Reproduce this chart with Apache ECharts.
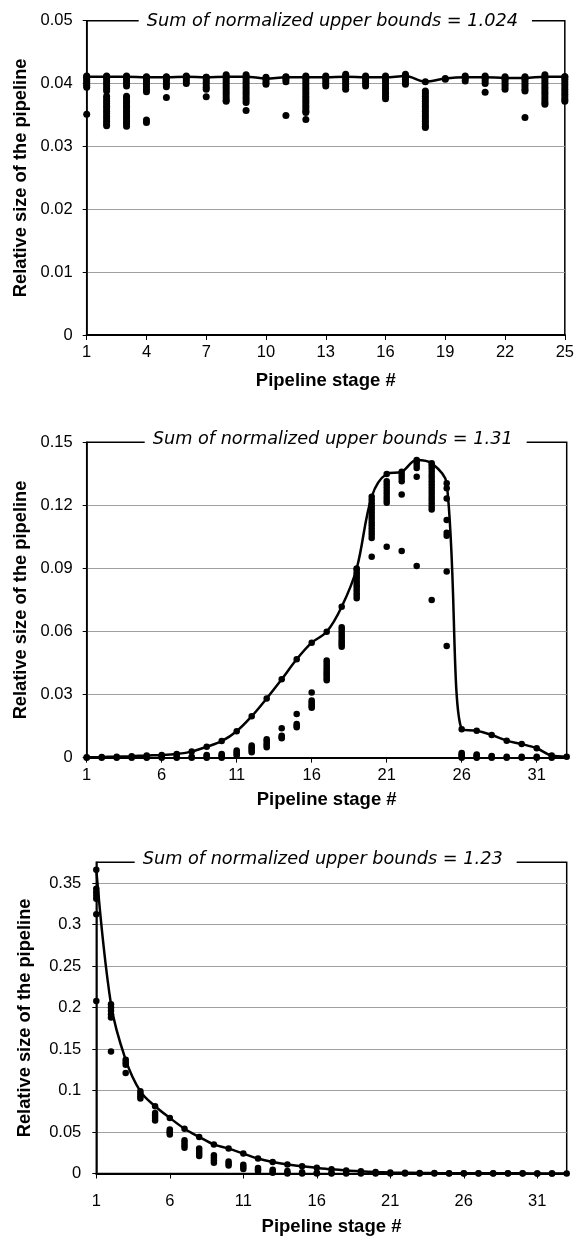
<!DOCTYPE html>
<html><head><meta charset="utf-8">
<script src="https://cdn.jsdelivr.net/npm/echarts@6/dist/echarts.min.js"></script>
<style>html,body{margin:0;padding:0;background:#fff}#c{width:577px;height:1238px}</style>
</head><body><div id="c"></div>
<script>
// ---------- data ----------
const stages25 = ['1','2','3','4','5','6','7','8','9','10','11','12','13','14','15','16','17','18','19','20','21','22','23','24','25'];
const stages33 = ['1','2','3','4','5','6','7','8','9','10','11','12','13','14','15','16','17','18','19','20','21','22','23','24','25','26','27','28','29','30','31','32','33'];

const titles = ['Sum of normalized upper bounds = 1.024','Sum of normalized upper bounds = 1.31','Sum of normalized upper bounds = 1.23'];
const xName = 'Pipeline stage #';
const yName = 'Relative size of the pipeline';

// panel 1: upper bound per stage (line) and observed sizes (dots)
const p1Upper = [0.0411,0.0411,0.0411,0.0410,0.0410,0.0411,0.0410,0.0411,0.0411,0.0408,0.0410,0.0410,0.0410,0.0411,0.0410,0.0410,0.0412,0.0403,0.0408,0.0410,0.0410,0.0409,0.0409,0.0411,0.0411];
const p1Points = [
  [0.0412,0.0409,0.0406,0.0403,0.0400,0.0397,0.0394,0.0351],
  [0.0412,0.0408,0.0404,0.0400,0.0396,0.0392,0.0388,0.0380,0.0376,0.0372,0.0368,0.0364,0.0360,0.0356,0.0352,0.0348,0.0344,0.0340,0.0336,0.0333],
  [0.0412,0.0408,0.0404,0.0400,0.0396,0.0380,0.0376,0.0372,0.0368,0.0364,0.0360,0.0356,0.0352,0.0348,0.0344,0.0340,0.0336,0.0332],
  [0.0411,0.0407,0.0403,0.0399,0.0395,0.0391,0.0387,0.0342,0.0338],
  [0.0411,0.0407,0.0403,0.0399,0.0395,0.0378],
  [0.0412,0.0408,0.0404,0.0400],
  [0.0410,0.0406,0.0402,0.0398,0.0394,0.0391,0.0379],
  [0.0414,0.0410,0.0406,0.0402,0.0398,0.0394,0.0390,0.0386,0.0382,0.0378,0.0374,0.0372],
  [0.0414,0.0410,0.0406,0.0402,0.0398,0.0394,0.0390,0.0386,0.0382,0.0378,0.0374,0.0370,0.0357],
  [0.0410,0.0406,0.0402,0.0399],
  [0.0411,0.0407,0.0403,0.0349],
  [0.0412,0.0408,0.0404,0.0400,0.0396,0.0392,0.0388,0.0384,0.0380,0.0376,0.0372,0.0368,0.0364,0.0360,0.0356,0.0354,0.0343],
  [0.0412,0.0408,0.0404,0.0400,0.0396],
  [0.0415,0.0411,0.0407,0.0403,0.0399,0.0395,0.0391],
  [0.0412,0.0408,0.0404,0.0400,0.0396],
  [0.0412,0.0408,0.0404,0.0400,0.0396,0.0392,0.0388,0.0384,0.0380,0.0376],
  [0.0415,0.0411,0.0407,0.0403,0.0399],
  [0.0388,0.0384,0.0380,0.0376,0.0372,0.0368,0.0364,0.0360,0.0356,0.0352,0.0348,0.0344,0.0340,0.0336,0.0332,0.0330],
  [0.0407],
  [0.0412,0.0408,0.0404],
  [0.0412,0.0408,0.0404,0.0400,0.0386],
  [0.0411,0.0407,0.0403,0.0399,0.0395,0.0391],
  [0.0411,0.0407,0.0403,0.0399,0.0395,0.0391,0.0388,0.0346],
  [0.0414,0.0410,0.0406,0.0402,0.0398,0.0394,0.0390,0.0386,0.0382,0.0378,0.0374,0.0370,0.0367],
  [0.0411,0.0407,0.0403,0.0399,0.0395,0.0391,0.0387,0.0383,0.0379,0.0375,0.0372]
];

// panel 2
const p2Upper = [0.0002,0.0003,0.0005,0.0007,0.0011,0.0013,0.0018,0.0029,0.0052,0.0079,0.0126,0.0197,0.0282,0.0373,0.0468,0.0547,0.0599,0.0718,0.0900,0.1241,0.1349,0.1360,0.1416,0.1400,0.1305,0.0135,0.0128,0.0108,0.0081,0.0065,0.0045,0.0010,0.0005];
const p2Points = [
  [0],[0],[0],[0],[0,0.0003],[0,0.0004],[0,0.0005],[0,0.0004],
  [0,0.0008,0.0013],
  [0,0.0006,0.0012,0.0018],
  [0.0010,0.0018,0.0026,0.0034],
  [0.0026,0.0034,0.0042,0.0050,0.0058],
  [0.0050,0.0058,0.0068,0.0080,0.0088],
  [0.0092,0.0098,0.0104,0.0140],
  [0.0145,0.0152,0.0160,0.0208],
  [0.0237,0.0245,0.0253,0.0262,0.0272,0.0310],
  [0.0368,0.0378,0.0388,0.0398,0.0408,0.0418,0.0428,0.0440,0.0452,0.0462],
  [0.0528,0.0538,0.0548,0.0558,0.0570,0.0582,0.0595,0.0608,0.0620],
  [0.0758,0.0770,0.0782,0.0795,0.0808,0.0820,0.0832,0.0845,0.0858,0.0870,0.0882,0.0895],
  [0.0956,0.1045,0.1060,0.1075,0.1090,0.1105,0.1120,0.1135,0.1150,0.1165,0.1180,0.1195,0.1210,0.1225],
  [0.1003,0.1212,0.1225,0.1240,0.1255,0.1270,0.1285,0.1300,0.1315],
  [0.0983,0.1252,0.1315,0.1330,0.1345],
  [0.0912,0.1336,0.1378,0.1392,0.1405],
  [0.0750,0.1180,0.1195,0.1210,0.1225,0.1240,0.1255,0.1270,0.1285,0.1300,0.1315,0.1330,0.1345,0.1360,0.1375,0.1390],
  [0.0531,0.0885,0.1055,0.1070,0.1130,0.1233,0.1281],
  [0,0.0005,0.0010,0.0016,0.0022],
  [0,0.0005,0.0010,0.0015],
  [0,0.0004,0.0008],
  [0,0.0005],
  [0,0.0004],
  [0,0.0004],
  [0],
  []
];

// panel 3
const p3Upper = [0.366,0.204,0.137,0.099,0.081,0.067,0.054,0.044,0.035,0.030,0.024,0.018,0.0138,0.0108,0.0088,0.0068,0.0050,0.0036,0.0026,0.0018,0.0012,0.0009,0.0007,0.0005,0.0004,0.0003,0.0003,0.0002,0.0002,0.0002,0.0001,0.0001,0.0001];
const p3Points = [
  [0.343,0.339,0.335,0.331,0.3124,0.2079],
  [0.200,0.196,0.192,0.188,0.147],
  [0.134,0.131,0.121],
  [0.096,0.093,0.0905],
  [0.073,0.070,0.067,0.064],
  [0.053,0.051,0.049,0.047],
  [0.040,0.037,0.034,0.031],
  [0.030,0.027,0.024,0.021],
  [0.022,0.019,0.016,0.013],
  [0.0145,0.012,0.0095],
  [0.0105,0.008,0.0055],
  [0.0065,0.0045,0.003],
  [0.0045,0.0025,0.001],
  [0.003,0.001,0],
  [0.0015,0],
  [0.001,0],
  [0.0005,0],
  [0],[0],[0],[0],[0],[0],[0],[0],[0],[0],[0],[0],[0],[0],[0],
  []
];

// ---------- chart ----------
function pts(arr){ const out=[]; arr.forEach((vals,i)=>vals.forEach(v=>out.push([i,v]))); return out; }

const FONT = 'Liberation Sans';
const grids = [
  {left:86.7, top:20.7, width:480, height:314.3},
  {left:86.7, top:442.3, width:480, height:315.4},
  {left:96.3, top:862.3, width:470.4, height:311.2}
];
const yCfg = [
  {max:0.05, interval:0.01, gap:52, margin:14},
  {max:0.15, interval:0.03, gap:52, margin:14},
  {max:0.375, interval:0.05, gap:62, margin:15}
];
const xCfg = [
  {data:stages25, interval:2, margin:8.5, gap:36.5},
  {data:stages33, interval:4, margin:9, gap:33},
  {data:stages33, interval:4, margin:19.5, gap:44}
];
const titlePos = [
  {left:138.7, top:10},
  {left:144.7, top:428},
  {left:134.7, top:848}
];
const lines = [p1Upper, p2Upper, p3Upper];
const points = [p1Points, p2Points, p3Points];
const dot = [7, 6.5, 6.5];

const option = {
  animation:false,
  backgroundColor:'#fff',
  title: titles.map((t,i)=>({
    text:t, left:titlePos[i].left, top:titlePos[i].top,
    backgroundColor:'#fff', padding:[1,14,1,8], z:10,
    textStyle:{fontFamily:'DejaVu Sans', fontStyle:'italic', fontWeight:'normal', fontSize:17.7, lineHeight:20, color:'#000'}
  })),
  grid: grids.map(g=>Object.assign({show:true, borderColor:'#000', borderWidth:1.5, backgroundColor:'transparent'}, g)),
  xAxis: xCfg.map((c,i)=>({
    type:'category', gridIndex:i, data:c.data, boundaryGap:false,
    axisLine:{show:true, lineStyle:{color:'#000', width:2}},
    axisTick:{show:true, length:5, interval:c.interval, lineStyle:{color:'#000', width:1}},
    axisLabel:{interval:c.interval, margin:c.margin, fontSize:16.5, color:'#000', fontFamily:FONT},
    splitLine:{show:false},
    name:xName, nameLocation:'middle', nameGap:c.gap,
    nameTextStyle:{fontFamily:FONT, fontWeight:'bold', fontSize:18.5, color:'#000'}
  })),
  yAxis: yCfg.map((c,i)=>({
    type:'value', gridIndex:i, min:0, max:c.max, interval:c.interval,
    axisLine:{show:true, lineStyle:{color:'#000', width:1.5}},
    axisTick:{show:true, length:4, lineStyle:{color:'#000', width:1}},
    axisLabel:{margin:c.margin, fontSize:16.5, color:'#000', fontFamily:FONT, showMaxLabel: i===2 ? false : true},
    splitLine:{show:true, showMinLine:false, showMaxLine:false, lineStyle:{color:'#a0a0a0', width:1}},
    name:yName, nameLocation:'middle', nameGap:c.gap,
    nameTextStyle:{fontFamily:FONT, fontWeight:'bold', fontSize:18.3, color:'#000'}
  })),
  series: []
};
for (let i=0;i<3;i++){
  option.series.push({
    type:'scatter', xAxisIndex:i, yAxisIndex:i, data:pts(points[i]),
    symbol:'circle', symbolSize:dot[i], itemStyle:{color:'#000', opacity:1}, silent:true, z:2
  });
  option.series.push({
    type:'line', xAxisIndex:i, yAxisIndex:i, data:lines[i], smooth:0.35,
    symbol:'circle', symbolSize:dot[i], showSymbol:true, showAllSymbol:true,
    lineStyle:{color:'#000', width:2.5}, itemStyle:{color:'#000', opacity:1}, silent:true, z:3
  });
}
const chart = echarts.init(document.getElementById('c'), null, {renderer:'canvas'});
chart.setOption(option);
</script></body></html>
